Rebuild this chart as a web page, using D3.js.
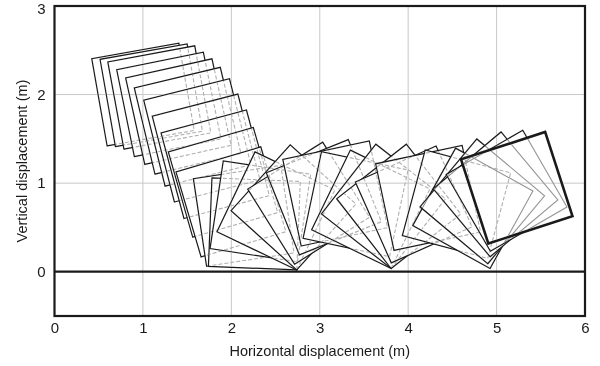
<!DOCTYPE html>
<html>
<head>
<meta charset="utf-8">
<script src="https://cdn.jsdelivr.net/npm/d3@7"></script>
<style>
  body { margin: 0; background: #fff; }
  text { font-family: "Liberation Sans", Arial, sans-serif; }
</style>
</head>
<body>
<div id="chart"></div>
<script>
// lowest corner of each block position (m) and tilt of its left edge (deg)
var cornerX = [0.595, 0.689, 0.785, 0.903, 1.021, 1.136, 1.251, 1.356, 1.464, 1.563, 1.658, 1.720,
               2.740, 2.748, 2.740, 2.740, 2.715, 2.770, 2.790,
               3.790, 3.807, 3.807, 3.807, 3.809, 3.840,
               4.900, 4.926, 4.900, 4.927, 4.930, 4.907];
var cornerY = [1.421, 1.413, 1.385, 1.300, 1.211, 1.102, 0.966, 0.787, 0.601, 0.391, 0.167, 0.062,
               0.020, 0.112, 0.020, 0.020, 0.085, 0.190, 0.290,
               0.170, 0.036, 0.036, 0.036, 0.100, 0.240,
               0.150, 0.036, 0.090, 0.169, 0.231, 0.318];
var tilt = [80, 80, 79.5, 78.5, 77.5, 76.5, 76, 75.5, 75, 74, 73.5, 81.4,
            2.3, 8.6, 25.5, 42, 58, 68, 78,
            12, 26, 38, 52, 66, 78,
            15, 29, 40, 50, 60, 72];
var xTicks = [0, 1, 2, 3, 4, 5, 6];
var yTicks = [0, 1, 2, 3];

var width = 600, height = 366;
var plotL = 54.5, plotR = 585, plotT = 6, plotB = 316;

var svg = d3.select("#chart").append("svg")
    .attr("width", width)
    .attr("height", height);

svg.append("rect").attr("width", width).attr("height", height).attr("fill", "#fff");

var x = d3.scaleLinear().domain([0, 6]).range([plotL, plotR]);
var y = d3.scaleLinear().domain([-0.5, 3]).range([plotB, plotT]);

// block outline from its lowest corner and tilt
function block(i) {
  var r = tilt[i] * Math.PI / 180, c = Math.cos(r), s = Math.sin(r);
  var px = cornerX[i], py = cornerY[i];
  return [[px, py], [px + s, py + c], [px + s - c, py + c + s], [px - c, py + s]];
}
var line = d3.line().x(function(d) { return x(d[0]); }).y(function(d) { return y(d[1]); })
    .curve(d3.curveLinearClosed);

var n = cornerX.length;
var idx = d3.range(n);

// visible outlines, painted in order
svg.append("g").selectAll("path")
  .data(idx)
  .enter().append("path")
    .attr("d", function(i) { return line(block(i)); })
    .attr("fill", "#fff")
    .attr("stroke", "#1a1a1a")
    .attr("stroke-width", function(i) { return i == n - 1 ? 2.6 : 1.2; })
    .attr("stroke-linejoin", "miter");

// hidden lines and grid, darkened onto the picture
var hidden = svg.append("g").style("mix-blend-mode", "darken");

hidden.selectAll(".gx")
  .data(xTicks.slice(1, -1))
  .enter().append("line")
    .attr("x1", function(d) { return x(d); }).attr("x2", function(d) { return x(d); })
    .attr("y1", plotT).attr("y2", plotB)
    .attr("stroke", "#c8c8c8").attr("stroke-width", 1);

hidden.selectAll(".gy")
  .data([1, 2])
  .enter().append("line")
    .attr("y1", function(d) { return y(d); }).attr("y2", function(d) { return y(d); })
    .attr("x1", plotL).attr("x2", plotR)
    .attr("stroke", "#c8c8c8").attr("stroke-width", 1);

hidden.selectAll(".hid")
  .data(idx.slice(0, n - 1))
  .enter().append("path")
    .attr("d", function(i) { return line(block(i)); })
    .attr("fill", "none")
    .attr("stroke", function(i) { return i >= n - 5 ? "#949494" : "#b0b0b0"; })
    .attr("stroke-width", 1.1)
    .attr("stroke-dasharray", function(i) { return i >= n - 5 ? null : "4,2"; });

// ground line
svg.append("line")
    .attr("x1", plotL).attr("x2", plotR)
    .attr("y1", y(0)).attr("y2", y(0))
    .attr("stroke", "#1a1a1a").attr("stroke-width", 2.2);

// frame
svg.append("rect")
    .attr("x", plotL).attr("y", plotT)
    .attr("width", plotR - plotL).attr("height", plotB - plotT)
    .attr("fill", "none").attr("stroke", "#1a1a1a").attr("stroke-width", 2.2);

// axes
var xAxis = svg.append("g")
    .attr("transform", "translate(0," + plotB + ")")
    .call(d3.axisBottom(x).tickValues(xTicks).tickSize(0).tickPadding(6).tickFormat(d3.format("d")));
var yAxis = svg.append("g")
    .attr("transform", "translate(" + plotL + ",0)")
    .call(d3.axisLeft(y).tickValues(yTicks).tickSize(0).tickPadding(9).tickFormat(d3.format("d")));
[xAxis, yAxis].forEach(function(a) {
  a.select(".domain").remove();
  a.selectAll("text").attr("font-size", 15).attr("fill", "#1a1a1a")
    .attr("font-family", "Liberation Sans, Arial, sans-serif");
});
yAxis.selectAll(".tick text").attr("dy", function(d) { return d == 3 ? "0.5em" : "0.32em"; });

svg.append("text")
    .attr("x", (plotL + plotR) / 2).attr("y", 356)
    .attr("text-anchor", "middle")
    .attr("font-size", 14.5).attr("fill", "#1a1a1a")
    .text("Horizontal displacement (m)");

svg.append("text")
    .attr("transform", "translate(27," + (y(1.25)) + ") rotate(-90)")
    .attr("text-anchor", "middle")
    .attr("font-size", 14.5).attr("fill", "#1a1a1a")
    .text("Vertical displacement (m)");
</script>
</body>
</html>
